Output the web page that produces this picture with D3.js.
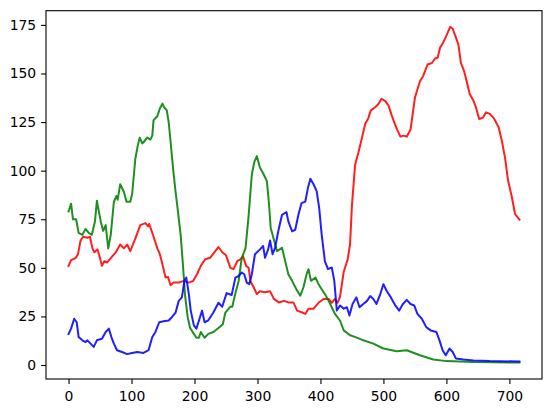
<!DOCTYPE html>
<html>
<head>
<meta charset="utf-8">
<script src="https://cdn.jsdelivr.net/npm/d3@7"></script>
<style>
  html, body { margin: 0; padding: 0; background: #fff; }
  svg { display: block; }
  .tick text { font-family: "DejaVu Sans", sans-serif; font-size: 13.9px; fill: #000; }
</style>
</head>
<body>
<svg id="chart" width="552" height="413"></svg>
<script>
// ---- data ([x, value] pairs) ----
const redPts = [[0,51],[4,54],[11,55],[15,57],[19,64],[23,66],[30,65.5],[34,66],[38,60],[41,58],[46,59.5],[50,55],[53,51],[57,53.5],[61,52.7],[67,55],[75,58],[82,62],[88,60],[93,62],[98,58.6],[106,65],[114,72],[122,73],[126,71.4],[128,72.6],[134,67],[141,60],[145,57],[149,52],[154,45],[158,45.3],[162,41],[167,42.4],[175,42.4],[183,43.3],[191,42.4],[198,43.3],[204,46.7],[210,51],[217,54.4],[225,55.2],[233,58.6],[238,60.7],[244,58],[250,56.5],[257,50],[262,49.3],[268,53.5],[273,54.4],[277,56],[282,51],[286,50],[289,43],[294,40],[299,36.5],[304,38],[312,37.4],[320,38],[326,34],[334,32.2],[342,33],[349,32.2],[357,32.2],[363,28],[371,27],[376,26.3],[381,29],[389,29],[397,32],[405,34],[413,34],[418,32],[423,34],[427,32],[431,35],[437,48],[443,54],[447,62],[450,82],[455,103],[460,109],[466,117],[471,124],[476,127],[480,131],[487,132.6],[492,134.3],[497,137],[503,135.8],[508,133.6],[513,128.6],[518,124.2],[522,121],[527,117.5],[532,118],[537,117.5],[543,121],[550,137.5],[558,146],[563,148.6],[570,154.6],[577,155.4],[582,157.7],[586,158.1],[590,163.2],[595,166],[600,169.5],[606,174],[610,173],[614,169.5],[619,165],[623,155.5],[628,151.3],[632,146.2],[637,139.4],[643,136],[647,132.5],[652,126.6],[658,127.2],[663,130],[669,129.2],[676,126.6],[683,122.3],[688,115.4],[693,106.8],[698,94.8],[704,86.3],[709,77.7],[716,74.8]];

const greenPts = [[0,79],[4,83],[7,75],[12,75],[16,68],[22,67],[27,70],[32,68],[37,67],[42,74],[45,84.5],[51,74],[55,69],[59,72],[63,60],[67,67],[72,84],[76,87],[78,85],[82,93],[88,89],[92,84],[98,84],[101,88],[106,106],[110,113],[113,117],[117,114],[120,115],[125,117],[130,116],[133,118],[135,126],[141,128],[145,132],[149,134.5],[152,132.5],[156,131],[159,125],[162,115],[166,101],[170,89],[173,81],[178,67],[182,50],[185,36],[189,25],[193,19],[199,16],[203,14],[207,14],[210,17],[216,14],[222,16],[230,17],[238,19],[245,21],[249,27],[257,30],[260,30],[265,37],[270,43],[275,55],[281,60],[286,77],[291,98],[295,104.5],[299,107.5],[304,101.5],[310,98],[315,94.5],[318,84],[321,70.5],[326,64.6],[331,58.6],[339,60.3],[344,53.5],[349,46.7],[355,43.3],[363,38.2],[368,35.7],[373,40],[378,46.7],[381,49.3],[385,43.3],[392,45],[397,41.6],[402,39],[407,36.5],[413,33],[418,29.7],[423,26.3],[431,22.9],[437,17.8],[447,15.3],[458,14.1],[468,12.7],[484,11],[500,8.5],[521,7.1],[537,7.6],[558,5],[579,2.8],[600,2],[643,1.5],[716,1.3]];

const bluePts = [[0,16],[4,18.7],[9,23.8],[13,22],[16,14.4],[22,12.7],[27,11.8],[30,12.7],[35,11],[40,9.3],[45,12.7],[53,13.5],[59,17],[64,18.7],[68,14.4],[72,11],[77,7.6],[85,6.7],[93,5.6],[101,6.2],[109,6.7],[119,6.2],[127,7.6],[133,14.4],[138,17],[144,22],[151,22.5],[159,22.9],[164,24.6],[170,27],[175,33],[180,34.8],[184,43.3],[187,45],[191,36.5],[194,28],[199,20.4],[203,18.7],[208,23.8],[212,28],[216,22],[222,23],[230,27],[238,32],[244,30],[251,37],[259,36],[265,45],[270,45.8],[275,47.6],[279,46.7],[283,42.4],[287,41.6],[291,46.7],[296,57],[304,59.5],[309,61.2],[312,55.2],[317,59.5],[320,64.1],[324,57],[328,60.3],[333,68.8],[339,77.3],[346,78.7],[349,73.9],[355,68.8],[360,69.6],[365,77.3],[370,83.3],[376,84.1],[380,90.9],[384,95.8],[389,93],[394,89.5],[398,80.7],[402,67],[407,53.5],[412,49.3],[418,50.2],[422,43.3],[426,28],[431,30.6],[437,29],[442,29.7],[446,25.5],[451,31.4],[457,34.8],[462,29.7],[468,31.4],[474,33],[479,35.5],[484,34],[489,31.4],[495,36.5],[500,41.6],[505,38.2],[511,35.2],[518,31.1],[525,28],[531,31.4],[537,33.5],[543,31.4],[549,30.6],[554,26.3],[561,23.8],[568,19.5],[575,17.8],[584,17],[589,12.7],[594,7.6],[599,5],[605,8.5],[610,6.7],[615,3.4],[627,2.8],[643,2.3],[669,2],[716,1.8]];

const seriesNames = ["red", "green", "blue"];
const seriesColors = ["#ff0000", "#008000", "#0000ff"];
const xTickValues = [0, 100, 200, 300, 400, 500, 600, 700];
const yTickValues = [0, 25, 50, 75, 100, 125, 150, 175];

// ---- layout ----
const W = 552, H = 413;
const margin = { left: 46, right: 10, top: 10.7, bottom: 34 };
const svg = d3.select("#chart");
const innerW = W - margin.left - margin.right;
const innerH = H - margin.top - margin.bottom;

const allSeries = [redPts, greenPts, bluePts];
const xs = allSeries.flat().map(d => d[0]);
const xMin = d3.min(xs), xMax = d3.max(xs), xR = xMax - xMin;

const x = d3.scaleLinear()
  .domain([xMin - 0.05 * xR, xMax + 0.05 * xR])
  .range([margin.left, margin.left + innerW]);
const y = d3.scaleLinear()
  .domain([-7.2, 182.3])
  .range([margin.top + innerH, margin.top]);

const g = svg.append("g");

const line = d3.line().x(d => x(d[0])).y(d => y(d[1])).curve(d3.curveLinear);

allSeries.forEach((pts, i) => {
  g.append("path")
    .datum(pts)
    .attr("class", "line " + seriesNames[i])
    .attr("fill", "none")
    .attr("stroke", seriesColors[i])
    .attr("stroke-opacity", 0.88)
    .attr("stroke-width", 2.0)
    .attr("stroke-linejoin", "round")
    .attr("stroke-linecap", "square")
    .attr("d", line);
});

// frame
g.append("rect")
  .attr("x", margin.left).attr("y", margin.top)
  .attr("width", innerW).attr("height", innerH)
  .attr("fill", "none").attr("stroke", "#000").attr("stroke-width", 1.1);

const xAxis = d3.axisBottom(x).tickValues(xTickValues).tickSize(4.9).tickPadding(4.9).tickFormat(d3.format("d"));
const yAxis = d3.axisLeft(y).tickValues(yTickValues).tickSize(4.9).tickPadding(4.9).tickFormat(d3.format("d"));

const gx = svg.append("g").attr("transform", `translate(0,${margin.top + innerH})`).call(xAxis);
const gy = svg.append("g").attr("transform", `translate(${margin.left},0)`).call(yAxis);
[gx, gy].forEach(a => {
  a.select(".domain").remove();
  a.selectAll(".tick line").attr("stroke", "#000").attr("stroke-width", 1.1);
});
gx.selectAll(".tick text").attr("dy", "0.85em");
</script>
</body>
</html>
